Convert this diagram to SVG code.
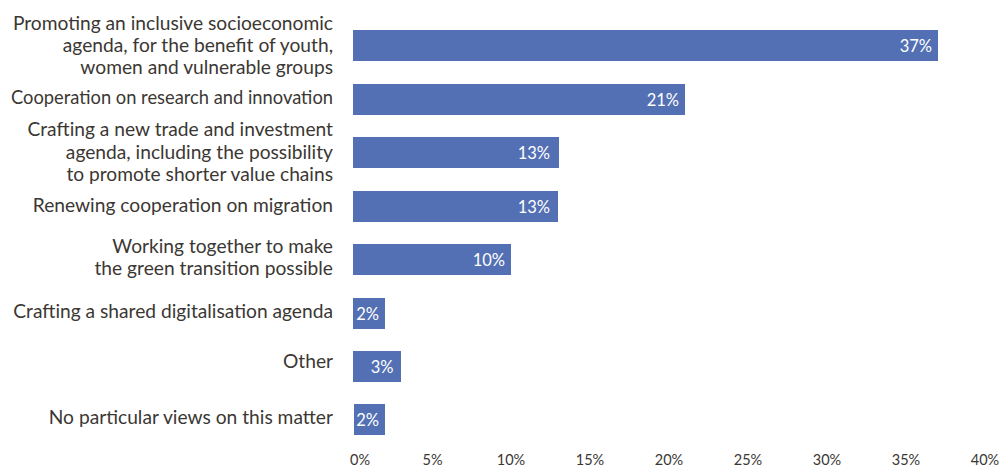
<svg xmlns="http://www.w3.org/2000/svg" width="1001" height="466" viewBox="0 0 1001 466">
<style>
.cat{font-family:Lato,"Noto Sans","Liberation Sans",sans-serif;font-size:19.2px;fill:#3b3733;text-anchor:end}
.val{font-family:Lato,"Noto Sans","Liberation Sans",sans-serif;font-size:16.5px;fill:#ffffff;text-anchor:end}
.ax{font-family:Lato,"Noto Sans","Liberation Sans",sans-serif;font-size:14.5px;fill:#3b3733;text-anchor:middle}
.bar{fill:#5370b4}
</style>
<rect width="1001" height="466" fill="#ffffff"/>
<g id="bar1">
<rect class="bar" x="353" y="30" width="585" height="31"/>
<text class="val" x="932" y="52">37%</text>
<text class="cat" x="333" y="29.5">Promoting an inclusive socioeconomic</text>
<text class="cat" x="333" y="52">agenda, for the benefit of youth,</text>
<text class="cat" x="333" y="74">women and vulnerable groups</text>
</g>
<g id="bar2">
<rect class="bar" x="353" y="84" width="332" height="31"/>
<text class="val" x="679" y="105.5">21%</text>
<text class="cat" x="333" y="104" textLength="322" lengthAdjust="spacingAndGlyphs">Cooperation on research and innovation</text>
</g>
<g id="bar3">
<rect class="bar" x="353" y="137" width="206" height="31"/>
<text class="val" x="550" y="158.5">13%</text>
<text class="cat" x="333" y="136">Crafting a new trade and investment</text>
<text class="cat" x="333" y="158.5">agenda, including the possibility</text>
<text class="cat" x="333" y="181">to promote shorter value chains</text>
</g>
<g id="bar4">
<rect class="bar" x="353" y="191" width="205" height="31"/>
<text class="val" x="550" y="212.5">13%</text>
<text class="cat" x="333" y="212">Renewing cooperation on migration</text>
</g>
<g id="bar5">
<rect class="bar" x="353" y="244" width="158" height="31"/>
<text class="val" x="505" y="265.5">10%</text>
<text class="cat" x="333" y="252.5">Working together to make</text>
<text class="cat" x="333" y="275">the green transition possible</text>
</g>
<g id="bar6">
<rect class="bar" x="353" y="298" width="32" height="31"/>
<text class="val" x="379" y="319.5">2%</text>
<text class="cat" x="333" y="318">Crafting a shared digitalisation agenda</text>
</g>
<g id="bar7">
<rect class="bar" x="353" y="351" width="48" height="31"/>
<text class="val" x="393.5" y="373">3%</text>
<text class="cat" x="333" y="368">Other</text>
</g>
<g id="bar8">
<rect class="bar" x="354" y="404" width="31" height="31"/>
<text class="val" x="379" y="425.5">2%</text>
<text class="cat" x="333" y="424">No particular views on this matter</text>
</g>
<g id="axis">
<text class="ax" x="360" y="465">0%</text>
<text class="ax" x="432.5" y="465">5%</text>
<text class="ax" x="511" y="465">10%</text>
<text class="ax" x="590" y="465">15%</text>
<text class="ax" x="669" y="465">20%</text>
<text class="ax" x="748" y="465">25%</text>
<text class="ax" x="827" y="465">30%</text>
<text class="ax" x="906" y="465">35%</text>
<text class="ax" x="985" y="465">40%</text>
</g>
<g id="connectors"></g>
</svg>
